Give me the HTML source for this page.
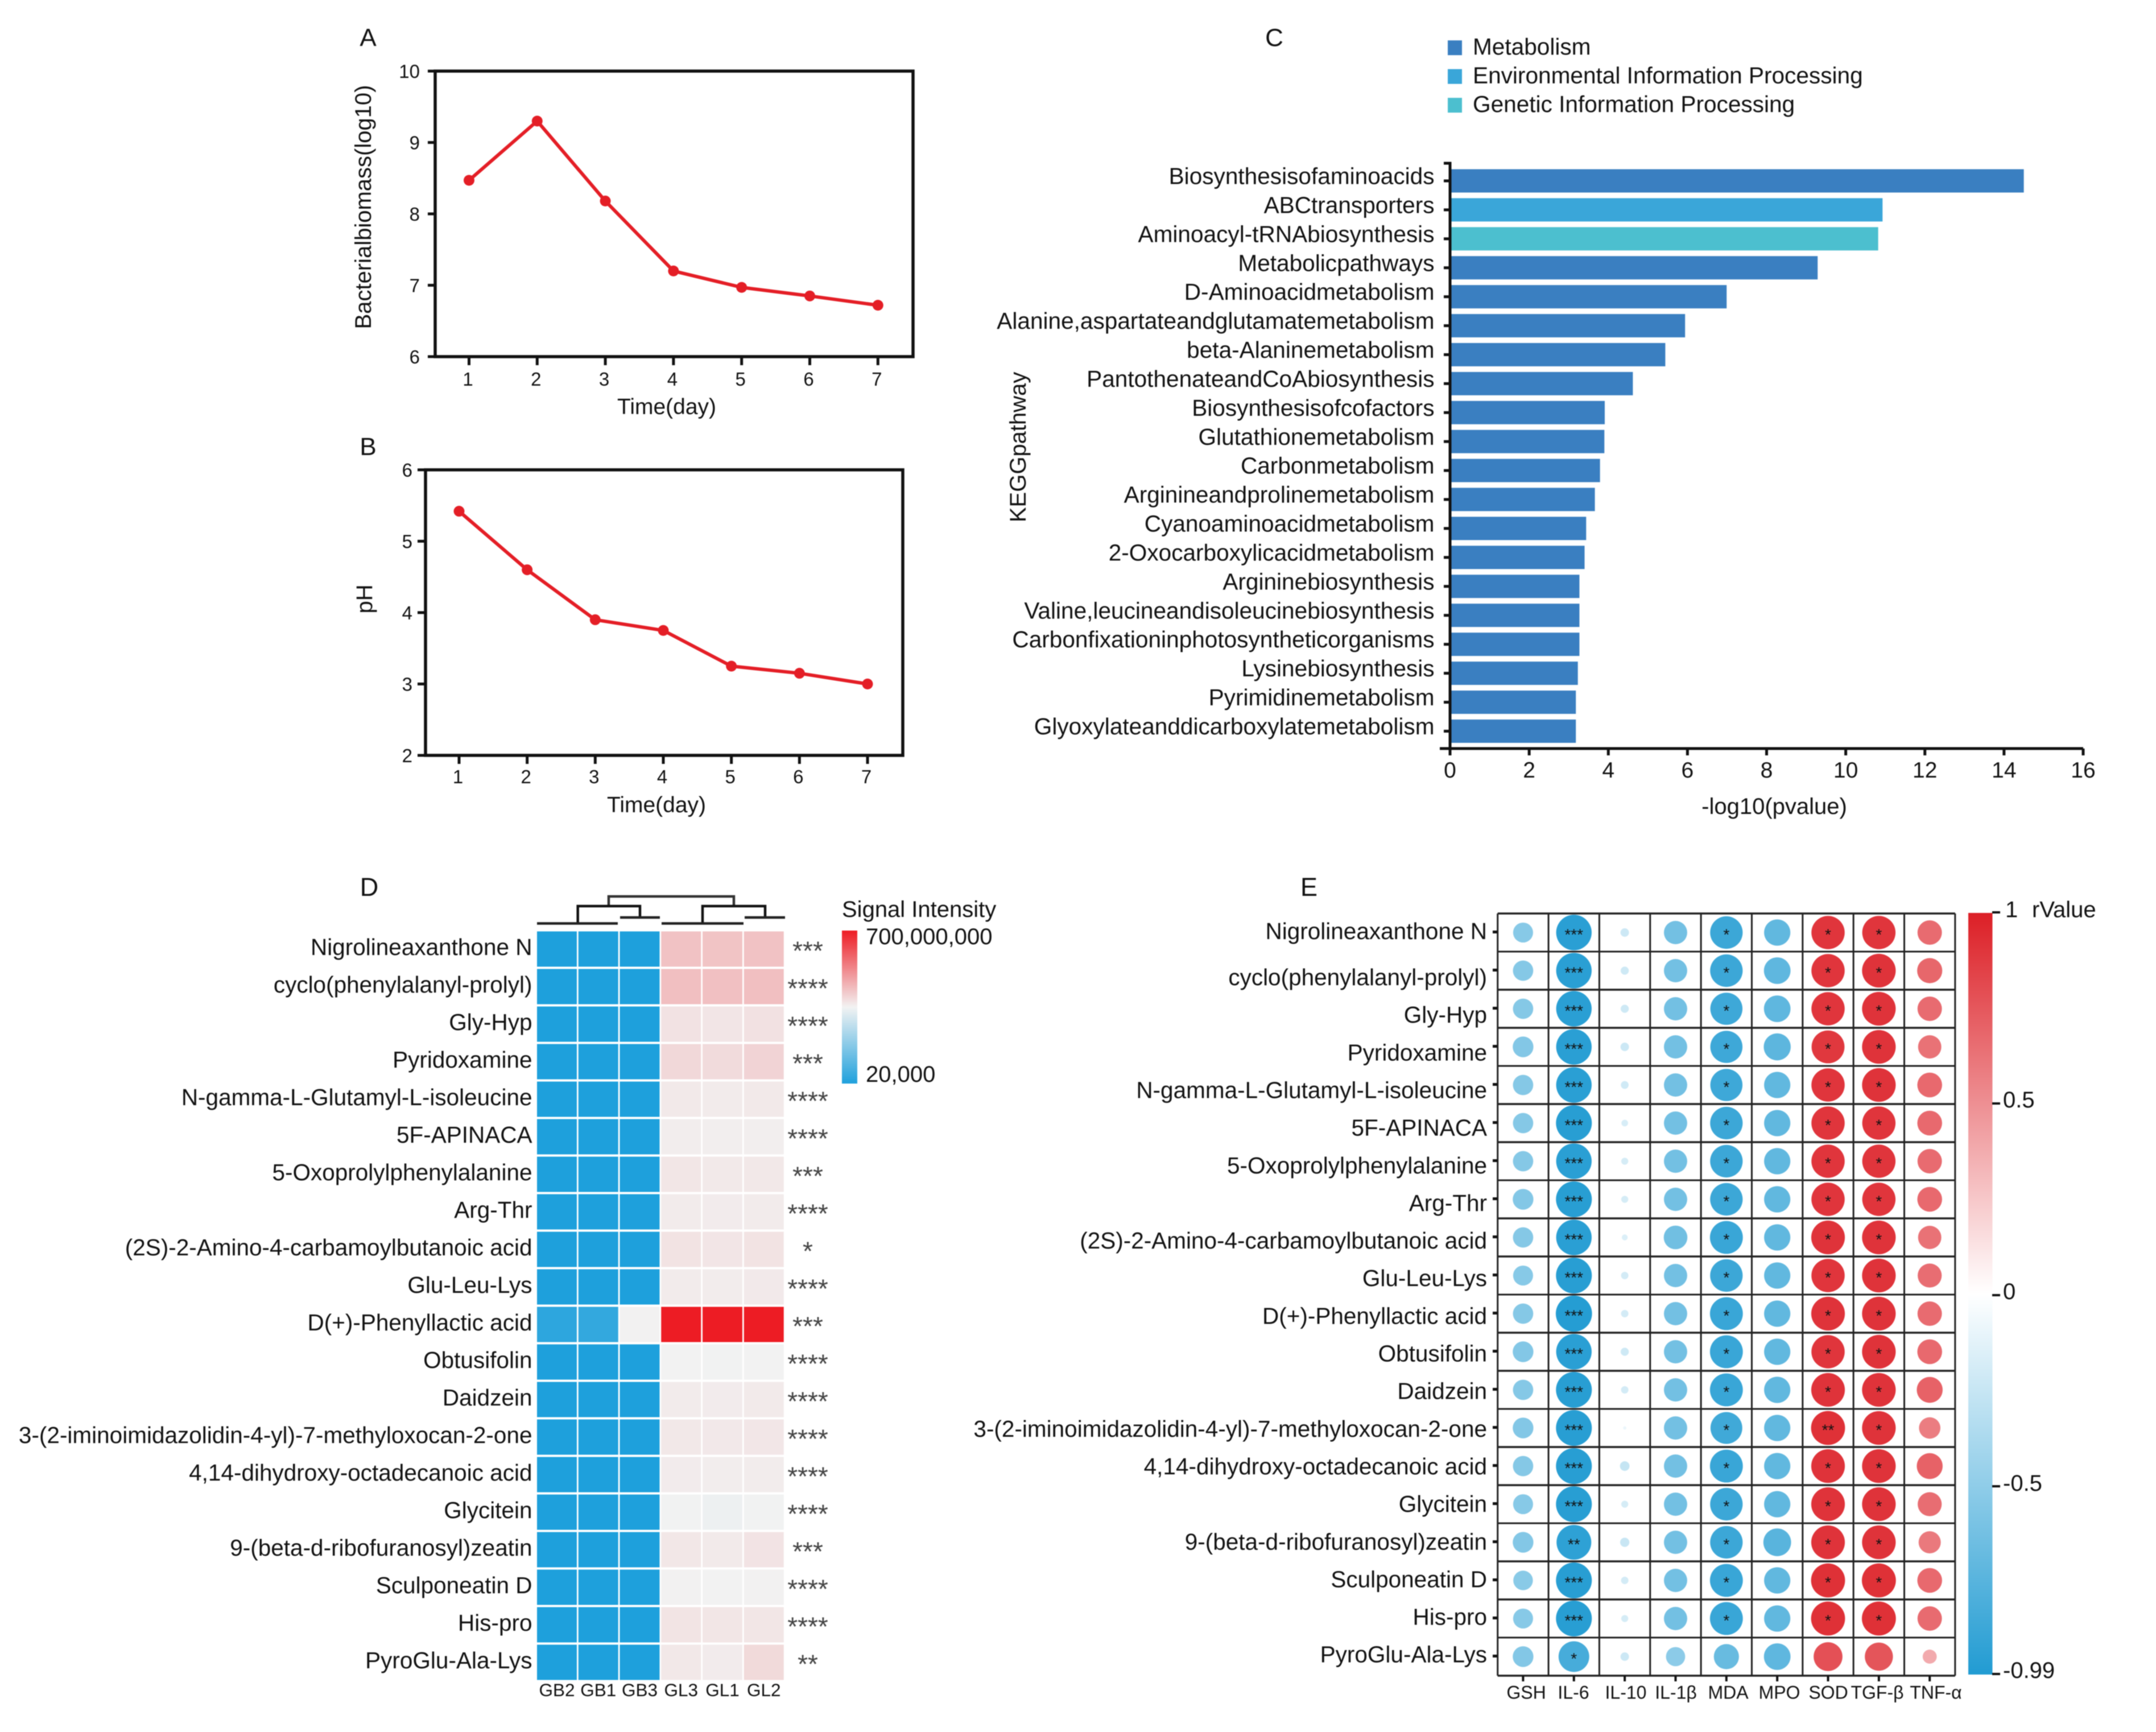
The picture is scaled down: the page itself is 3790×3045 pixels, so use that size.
<!DOCTYPE html>
<html lang="en">
<head>
<meta charset="utf-8">
<title>Multi-panel figure</title>
<style>
html,body{margin:0;padding:0;background:#fff;}
#fig{display:block;width:3790px;height:3045px;filter:blur(0.8px);}
text{font-family:"Liberation Sans",Arial,sans-serif;fill:#111;}
</style>
</head>
<body>
<svg id="fig" xmlns="http://www.w3.org/2000/svg" width="3790" height="3045" viewBox="0 0 3790 3045">
  <defs>
    <linearGradient id="heatGrad" x1="0" y1="0" x2="0" y2="1">
      <stop offset="0" stop-color="#ed1c24"/>
      <stop offset="0.5" stop-color="#f2f2f2"/>
      <stop offset="1" stop-color="#1ea0dc"/>
    </linearGradient>
    <linearGradient id="rGrad" x1="0" y1="0" x2="0" y2="1">
      <stop offset="0" stop-color="#dc1f26"/>
      <stop offset="0.5" stop-color="#ffffff"/>
      <stop offset="1" stop-color="#219bd2"/>
    </linearGradient>
  </defs>
  <rect x="0" y="0" width="3790" height="3045" fill="#fff"/>

  <text x="647" y="81" font-size="44" text-anchor="middle">A</text>
  <text x="647" y="800" font-size="44" text-anchor="middle">B</text>
  <text x="2240" y="81" font-size="44" text-anchor="middle">C</text>
  <text x="649" y="1575" font-size="45" text-anchor="middle">D</text>
  <text x="2301" y="1575" font-size="45" text-anchor="middle">E</text>

  <text x="1172" y="728" font-size="39" text-anchor="middle">Time(day)</text>
  <text transform="translate(652,364) rotate(-90)" font-size="40" text-anchor="middle">Bacterialbiomass(log10)</text>
  <text x="1154" y="1428" font-size="39" text-anchor="middle">Time(day)</text>
  <text transform="translate(654,1053) rotate(-90)" font-size="40" text-anchor="middle">pH</text>

  <g>
    <rect x="2545" y="71" width="25" height="26" fill="#3a7fc1"/>
    <text x="2589" y="96" font-size="40.6">Metabolism</text>
    <rect x="2545" y="121.5" width="25" height="26" fill="#3aa6d9"/>
    <text x="2589" y="146.5" font-size="40.6">Environmental Information Processing</text>
    <rect x="2545" y="172" width="25" height="26" fill="#4cbfcf"/>
    <text x="2589" y="197" font-size="40.6">Genetic Information Processing</text>
  </g>
  <text x="3119" y="1431" font-size="40" text-anchor="middle">-log10(pvalue)</text>
  <text transform="translate(1803,786) rotate(-90)" font-size="40" text-anchor="middle">KEGGpathway</text>

  <g stroke="#111" stroke-width="4.5" fill="none">
    <path d="M1070 1593V1576H1290V1593" stroke="#333"/>
    <path d="M1015.7 1623.5V1593H1125V1613"/>
    <path d="M1235 1623.5V1593H1345V1613"/>
    <path d="M944 1623.5H1086M1090 1613H1160M1163 1623.5H1307M1309 1613H1380" stroke="#222"/>
  </g>
  <text x="1480" y="1612" font-size="40">Signal Intensity</text>
  <rect x="1480" y="1636" width="27" height="269" fill="url(#heatGrad)"/>
  <text x="1522" y="1660" font-size="40">700,000,000</text>
  <text x="1522" y="1902" font-size="40">20,000</text>

  <rect x="3460" y="1605" width="42.5" height="1339" fill="url(#rGrad)"/>
  <g stroke="#111" stroke-width="4">
    <path d="M3502 1604H3516M3502 1940H3516M3502 2277H3516M3502 2613H3516M3502 2943H3516"/>
  </g>
  <text x="3525" y="1612.5" font-size="40">1</text>
  <text x="3572" y="1612.5" font-size="40">rValue</text>
  <text x="3521" y="1947" font-size="40">0.5</text>
  <text x="3521" y="2284" font-size="40">0</text>
  <text x="3521" y="2621" font-size="40">-0.5</text>
  <text x="3521" y="2950" font-size="40">-0.99</text>

  <g id="panelA"></g>
  <g id="panelB"></g>
  <g id="panelC"></g>
  <g id="panelD"></g>
  <g id="panelE"></g>
</svg>

<script>
// ----- Panel A / B data -----
const days = [1, 2, 3, 4, 5, 6, 7];
const biomass = [8.47, 9.3, 8.18, 7.2, 6.97, 6.85, 6.72];
const biomassTicks = [6, 7, 8, 9, 10];
const phValues = [5.42, 4.6, 3.9, 3.75, 3.25, 3.15, 3.0];
const phTicks = [2, 3, 4, 5, 6];

// ----- Panel C data -----
const pathways = ["Biosynthesisofaminoacids","ABCtransporters","Aminoacyl-tRNAbiosynthesis","Metabolicpathways","D-Aminoacidmetabolism","Alanine,aspartateandglutamatemetabolism","beta-Alaninemetabolism","PantothenateandCoAbiosynthesis","Biosynthesisofcofactors","Glutathionemetabolism","Carbonmetabolism","Arginineandprolinemetabolism","Cyanoaminoacidmetabolism","2-Oxocarboxylicacidmetabolism","Argininebiosynthesis","Valine,leucineandisoleucinebiosynthesis","Carbonfixationinphotosyntheticorganisms","Lysinebiosynthesis","Pyrimidinemetabolism","Glyoxylateanddicarboxylatemetabolism"];
const pathwayValues = [14.5, 10.93, 10.82, 9.29, 6.99, 5.94, 5.44, 4.62, 3.91, 3.9, 3.79, 3.66, 3.44, 3.4, 3.27, 3.27, 3.27, 3.23, 3.18, 3.18];
const pathwayGroups = [0, 1, 2, 0, 0, 0, 0, 0, 0, 0, 0, 0, 0, 0, 0, 0, 0, 0, 0, 0];
const pathwayTicks = [0, 2, 4, 6, 8, 10, 12, 14, 16];

// ----- Panel D data (signal intensity, millions) -----
const metabolites = ["Nigrolineaxanthone N","cyclo(phenylalanyl-prolyl)","Gly-Hyp","Pyridoxamine","N-gamma-L-Glutamyl-L-isoleucine","5F-APINACA","5-Oxoprolylphenylalanine","Arg-Thr","(2S)-2-Amino-4-carbamoylbutanoic acid","Glu-Leu-Lys","D(+)-Phenyllactic acid","Obtusifolin","Daidzein","3-(2-iminoimidazolidin-4-yl)-7-methyloxocan-2-one","4,14-dihydroxy-octadecanoic acid","Glycitein","9-(beta-d-ribofuranosyl)zeatin","Sculponeatin D","His-pro","PyroGlu-Ala-Lys"];
const samples = ["GB2","GB1","GB3","GL3","GL1","GL2"];
const heatValues = [
  [0,0,0,428,426,428],
  [0,0,0,433,431,433],
  [0,0,0,376,371,378],
  [0,0,0,393,388,400],
  [0,0,0,365,362,365],
  [0,0,0,358,357,356],
  [0,0,0,370,365,367],
  [0,0,0,362,361,362],
  [0,0,0,375,371,375],
  [0,0,0,362,360,364],
  [24,34,351,700,700,700],
  [0,0,0,350,349,350],
  [0,0,0,362,361,363],
  [0,0,0,367,366,369],
  [0,0,0,361,358,360],
  [0,0,0,348,342,349],
  [0,0,0,368,363,374],
  [0,0,0,351,350,351],
  [0,0,0,373,370,370],
  [0,0,0,367,361,390]
];
const heatStars = ["***","****","****","***","****","****","***","****","*","****","***","****","****","****","****","****","***","****","****","**"];

// ----- Panel E data (r values and significance levels) -----
const markers = ["GSH","IL-6","IL-10","IL-1β","MDA","MPO","SOD","TGF-β","TNF-α"];
const rValues = [
  [-0.54,-0.96,-0.23,-0.63,-0.88,-0.71,0.90,0.90,0.66],
  [-0.55,-0.96,-0.22,-0.63,-0.88,-0.72,0.90,0.91,0.68],
  [-0.55,-0.96,-0.22,-0.63,-0.87,-0.72,0.90,0.91,0.66],
  [-0.56,-0.96,-0.23,-0.63,-0.87,-0.73,0.89,0.91,0.63],
  [-0.55,-0.96,-0.21,-0.63,-0.87,-0.71,0.90,0.91,0.67],
  [-0.55,-0.97,-0.18,-0.63,-0.88,-0.71,0.90,0.90,0.67],
  [-0.55,-0.96,-0.19,-0.63,-0.88,-0.71,0.90,0.90,0.66],
  [-0.56,-0.97,-0.19,-0.63,-0.88,-0.71,0.90,0.90,0.67],
  [-0.55,-0.96,-0.16,-0.64,-0.89,-0.71,0.91,0.91,0.63],
  [-0.54,-0.97,-0.20,-0.63,-0.88,-0.71,0.90,0.91,0.65],
  [-0.55,-0.98,-0.20,-0.63,-0.89,-0.71,0.91,0.91,0.66],
  [-0.56,-0.96,-0.22,-0.63,-0.89,-0.71,0.90,0.91,0.67],
  [-0.55,-0.97,-0.20,-0.63,-0.89,-0.71,0.91,0.91,0.70],
  [-0.56,-0.97,-0.09,-0.63,-0.86,-0.71,0.92,0.91,0.58],
  [-0.55,-0.97,-0.26,-0.63,-0.89,-0.71,0.91,0.91,0.70],
  [-0.54,-0.97,-0.19,-0.63,-0.88,-0.71,0.91,0.91,0.65],
  [-0.56,-0.94,-0.25,-0.63,-0.88,-0.75,0.91,0.91,0.60],
  [-0.53,-0.97,-0.20,-0.63,-0.89,-0.71,0.92,0.92,0.67],
  [-0.54,-0.97,-0.19,-0.63,-0.89,-0.71,0.92,0.92,0.66],
  [-0.56,-0.83,-0.23,-0.52,-0.68,-0.72,0.78,0.76,0.38]
];
const rStars = [
  [0,3,0,0,1,0,1,1,0],[0,3,0,0,1,0,1,1,0],[0,3,0,0,1,0,1,1,0],[0,3,0,0,1,0,1,1,0],
  [0,3,0,0,1,0,1,1,0],[0,3,0,0,1,0,1,1,0],[0,3,0,0,1,0,1,1,0],[0,3,0,0,1,0,1,1,0],
  [0,3,0,0,1,0,1,1,0],[0,3,0,0,1,0,1,1,0],[0,3,0,0,1,0,1,1,0],[0,3,0,0,1,0,1,1,0],
  [0,3,0,0,1,0,1,1,0],[0,3,0,0,1,0,2,1,0],[0,3,0,0,1,0,1,1,0],[0,3,0,0,1,0,1,1,0],
  [0,2,0,0,1,0,1,1,0],[0,3,0,0,1,0,1,1,0],[0,3,0,0,1,0,1,1,0],[0,1,0,0,0,0,0,0,0]
];

const SVGNS = "http://www.w3.org/2000/svg";

function add(parent, tag, attrs, content) {
  const node = document.createElementNS(SVGNS, tag);
  for (const k in attrs) node.setAttribute(k, attrs[k]);
  if (content !== undefined) node.textContent = content;
  parent.appendChild(node);
  return node;
}
function slug(s) {
  return String(s).toLowerCase().replace(/[^a-z0-9]+/g, "-").replace(/^-|-$/g, "");
}
function hex(c) {
  return [parseInt(c.slice(1,3),16), parseInt(c.slice(3,5),16), parseInt(c.slice(5,7),16)];
}
function mix(a, b, t) {
  const p = hex(a), q = hex(b);
  return "rgb(" + p.map((v, i) => Math.round(v + (q[i] - v) * t)).join(",") + ")";
}

// ----- Line panels -----
function drawLinePanel(id, prefix, frame, xs, ys, yTicks, xScale, yScale, labelRight, tickLeft, xLabelY) {
  const g = document.getElementById(id);
  let el = add(g, "rect", {x: frame.l, y: frame.t, width: frame.r - frame.l, height: frame.b - frame.t, fill: "none", stroke: "#111", "stroke-width": 5.5});
  
  
  yTicks.forEach(v => {
    el = add(g, "line", {x1: tickLeft, x2: frame.l, y1: yScale(v), y2: yScale(v), stroke: "#111", "stroke-width": 5});
    
    
    el = add(g, "text", {x: labelRight, y: yScale(v) + 12, "font-size": 33, "text-anchor": "end"}, v);
    
    
  });
  xs.forEach(d => {
    el = add(g, "line", {x1: xScale(d), x2: xScale(d), y1: frame.b, y2: frame.b + 15, stroke: "#111", "stroke-width": 5});
    
    
    el = add(g, "text", {x: xScale(d) - 2, y: xLabelY, "font-size": 33, "text-anchor": "middle"}, d);
    
    
  });
  const pts = xs.map((d, i) => xScale(d) + "," + yScale(ys[i])).join(" ");
  el = add(g, "polyline", {points: pts, fill: "none", stroke: "#e41e26", "stroke-width": 6, "stroke-linejoin": "round"});
  
  
  xs.forEach((d, i) => {
    el = add(g, "circle", {cx: xScale(d), cy: yScale(ys[i]), r: 9.5, fill: "#e41e26"});
    
    
  });
}
const xA = d => 824.5 + (d - 1) * 119.8;
const yA = v => 627 - (v - 6) * 125.5;
drawLinePanel("panelA", "a", {l: 765, r: 1605, t: 125, b: 627}, days, biomass, biomassTicks, xA, yA, 738, 752, 678);
const xB = d => 807 + (d - 1) * 119.67;
const yB = v => 1328 - (v - 2) * 125.5;
drawLinePanel("panelB", "b", {l: 748, r: 1587, t: 826, b: 1328}, days, phValues, phTicks, xB, yB, 725, 734, 1377);

// ----- Panel C -----
(function () {
  const g = document.getElementById("panelC");
  const xC = v => 2549 + v * 69.56;
  const yC = i => 318 + i * 50.92;
  const colors = ["#3a7fc1", "#3aa6d9", "#4cbfcf"];
  let el;
  pathways.forEach((name, i) => {
    el = add(g, "rect", {x: xC(0), y: yC(i) - 20.5, width: xC(pathwayValues[i]) - xC(0), height: 41, fill: colors[pathwayGroups[i]]});
    
    
    el = add(g, "line", {x1: 2538, x2: 2549, y1: yC(i), y2: yC(i), stroke: "#111", "stroke-width": 5});
    
    
    el = add(g, "text", {x: 2521.5, y: yC(i) + 5.5, "font-size": 40.6, "text-anchor": "end"}, name);
    
    
  });
  el = add(g, "path", {d: "M2538 287H2549V1316H2531M2549 1316H" + xC(16), fill: "none", stroke: "#111", "stroke-width": 5});
  
  
  pathwayTicks.forEach(v => {
    el = add(g, "line", {x1: xC(v), x2: xC(v), y1: 1316, y2: 1328, stroke: "#111", "stroke-width": 5});
    
    
    el = add(g, "text", {x: xC(v), y: 1367, "font-size": 39, "text-anchor": "middle"}, v);
    
    
  });
})();

// ----- Panel D -----
(function () {
  const g = document.getElementById("panelD");
  const xD = c => 944 + c * 72.75;
  const yD = r => 1637.5 + r * 66;
  const heatColor = v => {
    const t = v / 700;
    return t < 0.5 ? mix("#1ea0dc", "#f2f2f2", t / 0.5) : mix("#f2f2f2", "#ed1c24", (t - 0.5) / 0.5);
  };
  let el;
  metabolites.forEach((name, r) => {
    heatValues[r].forEach((v, c) => {
      el = add(g, "rect", {x: xD(c), y: yD(r), width: 70, height: 62, fill: heatColor(v)});
      
      
    });
    el = add(g, "text", {x: 935.5, y: yD(r) + 41.5, "font-size": 40.5, "text-anchor": "end"}, name);
    
    
    el = add(g, "text", {x: 1420, y: yD(r) + 50, "font-size": 46, "text-anchor": "middle", style: "fill:#444"}, heatStars[r]);
    
    
  });
  samples.forEach((s, c) => {
    el = add(g, "text", {x: xD(c) + 35, y: 2982, "font-size": 31.5, "text-anchor": "middle"}, s);
    
    
  });
})();

// ----- Panel E -----
(function () {
  const g = document.getElementById("panelE");
  const xE = c => 2632.7 + c * 89.35;
  const yE = r => 1606 + r * 67;
  const rRadius = v => 32.5 * Math.abs(v);
  const rColor = v => v >= 0 ? mix("#ffffff", "#dc1f26", v) : mix("#ffffff", "#219bd2", -v);
  const labelCenters = [2683, 2766, 2858, 2946, 3038, 3128, 3214, 3300, 3403];
  let el;
  for (let r = 0; r <= metabolites.length; r++) {
    el = add(g, "line", {x1: xE(0), x2: xE(9), y1: yE(r), y2: yE(r), stroke: "#222", "stroke-width": r % 3 === 1 ? 3 : 3.5});
    
    
  }
  for (let c = 0; c <= markers.length; c++) {
    el = add(g, "line", {x1: xE(c), x2: xE(c), y1: yE(0), y2: yE(20), stroke: "#222", "stroke-width": 3});
    
    
  }
  metabolites.forEach((name, r) => {
    const cy = yE(r) + 33.5;
    rValues[r].forEach((v, c) => {
      const cx = xE(c) + 44.7;
      el = add(g, "circle", {cx: cx, cy: cy, r: rRadius(v), fill: rColor(v)});
      
      
      const n = rStars[r][c];
      if (n > 0) {
        el = add(g, "text", {x: cx, y: cy + 13, "font-size": 28, "text-anchor": "middle"}, "*".repeat(n));
        
        
      }
    });
    el = add(g, "line", {x1: 2624, x2: 2632, y1: cy - 1, y2: cy - 1, stroke: "#111", "stroke-width": 5});
    
    
    const baseline = r === 0 ? 1651 : 1732 + (r - 1) * 66.15;
    el = add(g, "text", {x: 2614, y: baseline, "font-size": 40.5, "text-anchor": "end"}, name);
    
    
  });
  markers.forEach((m, c) => {
    const cx = xE(c) + 44.7;
    el = add(g, "line", {x1: cx, x2: cx, y1: yE(20), y2: yE(20) + 10, stroke: "#111", "stroke-width": 4});
    
    
    el = add(g, "text", {x: labelCenters[c], y: 2986.5, "font-size": 32, "text-anchor": "middle"}, m);
    
    
  });
})();
</script>
</body>
</html>
